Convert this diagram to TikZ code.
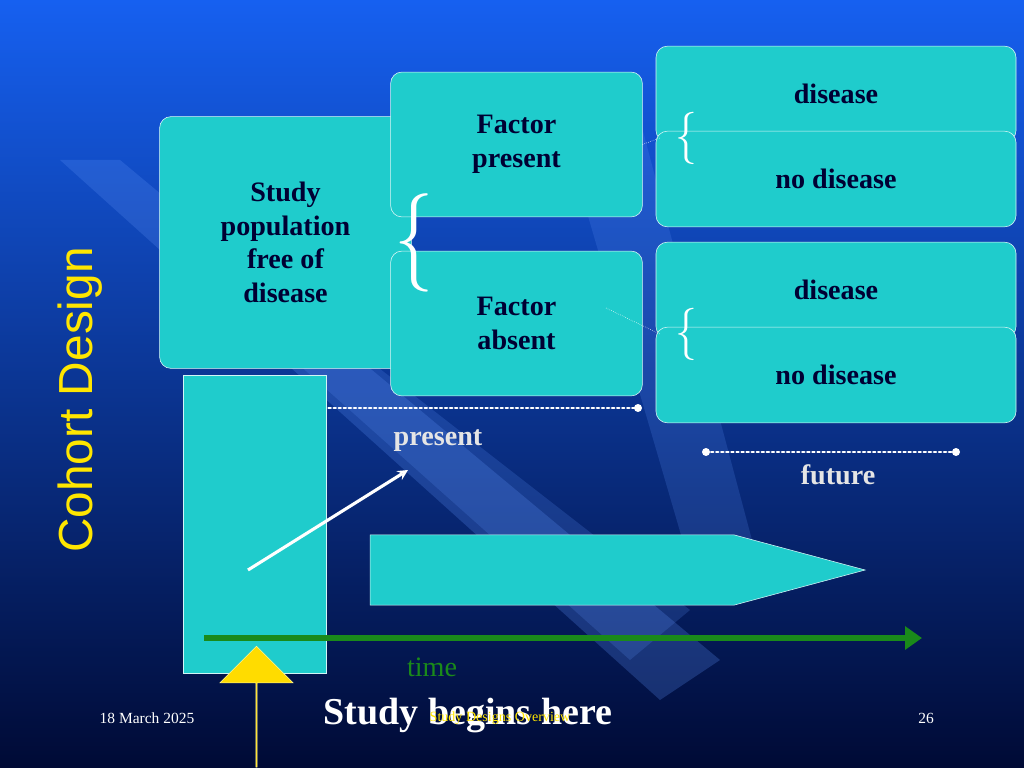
\documentclass[tikz,border=0pt]{standalone}
\usepackage{fontspec}
\setmainfont{Liberation Serif}
\setsansfont{Liberation Sans}
\usetikzlibrary{shapes.arrows, arrows.meta}
\definecolor{boxcyan}{HTML}{1FCCCC}
\definecolor{bgtop}{HTML}{1660F0}
\definecolor{bgbot}{HTML}{000A35}
\definecolor{timegreen}{HTML}{1A8A1A}
\definecolor{labyellow}{HTML}{FFE600}
\tikzset{
  cbox/.style={draw=white!85!boxcyan, fill=boxcyan, rounded corners=8pt, text=black!80!blue, font=\fontsize{20}{24}\selectfont\bfseries, align=center, inner sep=0pt},
  dotline/.style={white, line width=1.6pt, dotted, line cap=round},
  tag/.style={font=\fontsize{20}{24}\selectfont\bfseries}
}
\begin{document}
\begin{tikzpicture}[x=0.025cm, y=-0.025cm]
\useasboundingbox (0,0) rectangle (1024,768);
\shade[top color=bgtop, bottom color=bgbot] (0,0) rectangle (1024,768);
% diagonal stripes
\fill[bgtop!70!white, opacity=0.25] (60,160) -- (120,160) -- (720,660) -- (660,700) -- cycle;
\fill[bgtop!70!white, opacity=0.2] (260,330) -- (330,330) -- (690,610) -- (630,660) -- cycle;
\fill[bgtop!70!white, opacity=0.2] (560,120) -- (640,120) -- (760,570) -- (700,600) -- cycle;

\node[rotate=90, text=labyellow, font=\sffamily\fontsize{34}{40}\selectfont] (title) at (80,400) {Cohort Design};

\node[cbox, minimum width=179, minimum height=179] (pop) at (285.5,242.5) {Study\\population\\free of\\disease};
\node[cbox, minimum width=179, minimum height=103] (fp) at (516.5,144.5) {Factor\\present};
\node[cbox, minimum width=179, minimum height=103] (fa) at (516.5,323.5) {Factor\\absent};
\node[cbox, minimum width=256, minimum height=68] (d1) at (836,94) {disease};
\node[cbox, minimum width=256, minimum height=68] (n1) at (836,179) {no disease};
\node[cbox, minimum width=256, minimum height=68] (d2) at (836,290) {disease};
\node[cbox, minimum width=256, minimum height=68] (n2) at (836,375) {no disease};

\node[white, scale=5.6, yscale=1.25] (br0) at (414,243) {$\{$};
\node[white, scale=3.1, yscale=1.2] (br1) at (686,138) {$\{$};
\node[white, scale=3.1, yscale=1.2] (br2) at (686,334) {$\{$};
\draw[white, densely dotted, thin] (fp.east) -- (br1.west);
\draw[white, densely dotted, thin] (606,308) -- (br2.west);

\coordinate (p1) at (288,408);
\coordinate (p2) at (638,408);
\coordinate (f1) at (706,452);
\coordinate (f2) at (956,452);
\draw[dotline] (p1) -- (p2);
\draw[dotline] (f1) -- (f2);
\foreach \c in {p1,p2,f1,f2} \fill[white] (\c) circle (4);
\node[tag, text=white!90!black] (present) at (438,441) {present};
\node[tag, text=white!90!black] (future) at (838,475) {future};

\node[draw=white!80!boxcyan, fill=boxcyan, minimum width=102, minimum height=212, inner sep=0pt] (bar) at (255,524) {};
\coordinate (a1) at (248,570);
\coordinate (a2) at (408,470);
\draw[white, line width=2.2pt, -stealth] (a1) -- (a2);

\node[single arrow, draw=white!80!boxcyan, fill=boxcyan, minimum height=352, minimum width=50, single arrow head extend=0pt, single arrow tip angle=30, inner sep=0pt, single arrow head indent=0pt] (big) at (552,570) {};

\coordinate (t1) at (204,638);
\coordinate (t2) at (922,638);
\draw[timegreen, line width=4.5pt, -{Triangle[length=12pt, width=16pt]}] (t1) -- (t2);
\node[text=timegreen, font=\fontsize{20}{24}\selectfont] (time) at (432,667) {time};

\node[single arrow, shape border rotate=90, draw=white!60!labyellow, fill=labyellow!90!orange, minimum height=86, minimum width=52, single arrow head extend=12, inner sep=0pt] (up) at (256.5,707) {};

\node[white, font=\fontsize{27}{30}\selectfont\bfseries] (begins) at (468,716) {Study begins here};
\node[labyellow, font=\fontsize{10}{12}\selectfont] (footer) at (500,718) {Study Designs Overview};
\node[white, font=\fontsize{11}{13}\selectfont] (date) at (147,718) {18 March 2025};
\node[white, font=\fontsize{11}{13}\selectfont] (page) at (926,718) {26};
\end{tikzpicture}
\end{document}
